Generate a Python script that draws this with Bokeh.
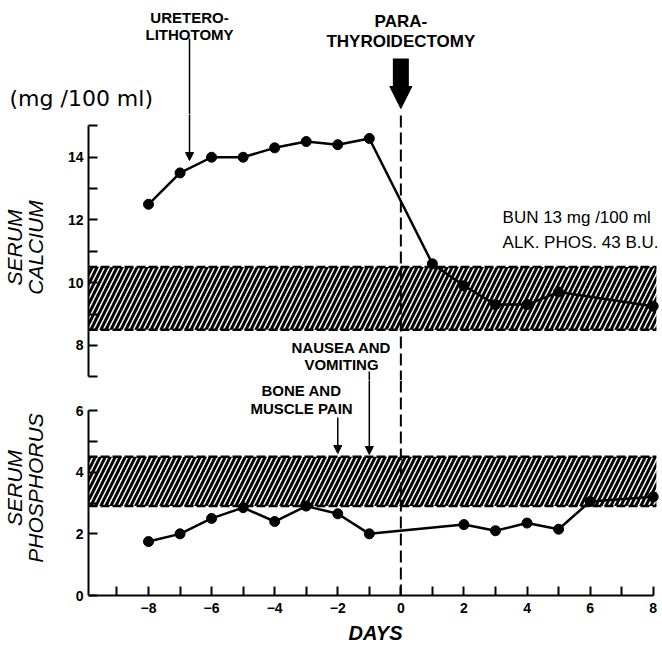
from bokeh.plotting import figure
from bokeh.layouts import column
from bokeh.models import Range1d, FixedTicker, Label, Arrow, NormalHead, Span
from bokeh.embed import file_html
from bokeh.resources import INLINE

# ---------------- data ----------------
days_ca = [-8, -7, -6, -5, -4, -3, -2, -1, 1, 2, 3, 4, 5, 8]
calcium = [12.5, 13.5, 14.0, 14.0, 14.3, 14.5, 14.4, 14.6, 10.6, 9.9, 9.3, 9.3, 9.7, 9.25]
days_p = [-8, -7, -6, -5, -4, -3, -2, -1, 2, 3, 4, 5, 6, 8]
phosphorus = [1.75, 2.0, 2.5, 2.85, 2.4, 2.9, 2.65, 2.0, 2.3, 2.1, 2.35, 2.15, 3.05, 3.2]
ca_normal = [8.5, 10.5]
p_normal = [2.9, 4.5]
surgery_day = 0
uretero_day = -6.7
bone_pain_day = -2
nausea_day = -1
x_major = [-8, -6, -4, -2, 0, 2, 4, 6, 8]
x_minor = [-9, -7, -5, -3, -1, 1, 3, 5, 7]
ca_major = [8, 10, 12, 14]
ca_minor = [7, 9, 11, 13, 15]
p_major = [0, 2, 4, 6]
p_minor = [3, 5]

# ---------------- layout helpers ----------------
W = 662
LEFT = 88
HEAD_H = 114
DAY_PX = 31.54
X0 = -8 - (148 - LEFT) / DAY_PX
X1 = 8 + (W - 652.7) / DAY_PX
XH = -8 - 148 / DAY_PX
CA_PX = 31.35
CA_TOP = 15 + 125.4 / CA_PX
P_PX = 30.83
P_TOP = (595 - 380) / P_PX
band_end = 8.1
FONT = "Liberation Sans"


def ca_y(py):
    return CA_TOP - py / CA_PX


def p_y(py):
    return (595 - py) / P_PX


def day_x(px):
    return (px - 148) / DAY_PX - 8


xr = Range1d(X0, X1)


def style_axis(ax, major, minor, bounds):
    ax.ticker = FixedTicker(ticks=major, minor_ticks=minor)
    ax.bounds = bounds
    ax.axis_line_width = 2
    ax.major_tick_line_width = 2
    ax.minor_tick_line_width = 2
    ax.major_tick_in = 9
    ax.major_tick_out = 0
    ax.minor_tick_in = 9
    ax.minor_tick_out = 0
    ax.major_label_standoff = 5
    ax.major_label_text_font = FONT
    ax.major_label_text_font_style = "bold"
    ax.major_label_text_font_size = "14px"
    ax.major_label_text_color = "black"
    ax.axis_label_text_font = FONT
    ax.axis_label_text_color = "black"


def lab(p, x, y, text, size, style="bold", align="center", baseline="top", lh=1.2, font=FONT):
    p.add_layout(Label(x=x, y=y, text=text, text_font=font, text_font_size=f"{size}px",
                       text_font_style=style, text_align=align, text_baseline=baseline,
                       text_line_height=lh, text_color="black"))


def small_arrow(p, x, y0, y1):
    p.add_layout(Arrow(x_start=x, y_start=y0, x_end=x, y_end=y1, line_width=1.5,
                       line_color="black",
                       end=NormalHead(size=8, fill_color="black", line_color="black")))


# ---------------- header: event annotations ----------------
p0 = figure(width=W, height=HEAD_H, x_range=Range1d(XH, X1), y_range=Range1d(ca_y(HEAD_H), CA_TOP),
            output_backend="svg", toolbar_location=None, x_axis_location=None, y_axis_location=None,
            min_border_left=0, min_border_right=0, min_border_top=0, min_border_bottom=0,
            outline_line_color=None, background_fill_color="white")
p0.frame_align = False
p0.grid.visible = False

lab(p0, uretero_day, ca_y(8), "URETERO-\nLITHOTOMY", 15, lh=1.0)
p0.segment(x0=[uretero_day], x1=[uretero_day], y0=[ca_y(38)], y1=[ca_y(HEAD_H + 5)],
           line_color="black", line_width=1.5)
lab(p0, surgery_day, ca_y(11), "PARA-\nTHYROIDECTOMY", 17, lh=1.06)
p0.add_layout(Arrow(x_start=surgery_day, y_start=ca_y(58), x_end=surgery_day, y_end=ca_y(108),
                    line_width=16, line_color="black",
                    end=NormalHead(size=22, fill_color="black", line_color="black")))
lab(p0, day_x(9), ca_y(85), "(mg /100 ml)", 22, style="normal", align="left", font="DejaVu Sans")

# ---------------- serum calcium ----------------
p1 = figure(width=W, height=380 - HEAD_H, x_range=xr, y_range=Range1d(ca_y(380), ca_y(HEAD_H)),
            output_backend="svg", toolbar_location=None, x_axis_location=None,
            min_border_left=LEFT, min_border_right=0, min_border_top=0, min_border_bottom=0,
            outline_line_color=None, background_fill_color="white")
p1.grid.visible = False
ya = p1.yaxis[0]
style_axis(ya, ca_major, ca_minor, (7, 15))
ya.axis_label = "SERUM\nCALCIUM"
ya.axis_label_text_font_style = "italic"
ya.axis_label_text_font_size = "21px"
ya.axis_label_text_line_height = 0.9
ya.axis_label_standoff = 18

p1.quad(left=[X0], right=[band_end], bottom=[ca_normal[0]], top=[ca_normal[1]],
        fill_color=None, line_color=None, hatch_pattern="/", hatch_color="black",
        hatch_weight=3, hatch_scale=10)
p1.segment(x0=[X0, X0], x1=[band_end, band_end], y0=ca_normal, y1=ca_normal,
           line_color="black", line_width=2.5, line_dash="9 3")

p1.segment(x0=[surgery_day], x1=[surgery_day], y0=[ca_y(115)], y1=[ca_y(400)],
           line_color="black", line_width=2, line_dash="12 5")

p1.line(days_ca, calcium, line_color="black", line_width=2.5)
p1.scatter(days_ca, calcium, size=10, color="black")

small_arrow(p1, uretero_day, ca_y(HEAD_H - 5), ca_y(160))
lab(p1, day_x(502), ca_y(207), "BUN  13 mg /100 ml\nALK. PHOS.  43 B.U.", 17, style="normal",
    align="left", lh=1.35)
lab(p1, day_x(341), ca_y(338), "NAUSEA AND\nVOMITING", 15, lh=1.05)
p1.segment(x0=[nausea_day], x1=[nausea_day], y0=[ca_y(371)], y1=[ca_y(400)],
           line_color="black", line_width=1.5)

# ---------------- serum phosphorus ----------------
p2 = figure(width=W, height=267, x_range=xr, y_range=Range1d(0, P_TOP),
            output_backend="svg", toolbar_location=None,
            min_border_left=LEFT, min_border_right=0, min_border_top=0, min_border_bottom=52,
            outline_line_color=None, background_fill_color="white")
p2.grid.visible = False
yb = p2.yaxis[0]
style_axis(yb, p_major, p_minor, (0, 6))
yb.axis_label = "SERUM\nPHOSPHORUS"
yb.axis_label_text_font_style = "italic"
yb.axis_label_text_font_size = "21px"
yb.axis_label_text_line_height = 0.9
yb.axis_label_standoff = 26
xa = p2.xaxis[0]
style_axis(xa, x_major, x_minor, (X0, 8))
xa.major_label_standoff = 7
xa.axis_label = "DAYS"
xa.axis_label_text_font_style = "bold italic"
xa.axis_label_text_font_size = "20px"
xa.axis_label_standoff = 6

p2.quad(left=[X0], right=[band_end], bottom=[p_normal[0]], top=[p_normal[1]],
        fill_color=None, line_color=None, hatch_pattern="/", hatch_color="black",
        hatch_weight=3, hatch_scale=10)
p2.segment(x0=[X0, X0], x1=[band_end, band_end], y0=p_normal, y1=p_normal,
           line_color="black", line_width=2.5, line_dash="9 3")

p2.add_layout(Span(location=surgery_day, dimension="height", line_color="black",
                   line_width=2, line_dash="12 5"))

p2.line(days_p, phosphorus, line_color="black", line_width=2.5)
p2.scatter(days_p, phosphorus, size=10, color="black")

lab(p2, day_x(301), p_y(381), "BONE AND\nMUSCLE PAIN", 15, lh=1.1)
small_arrow(p2, bone_pain_day, p_y(417), p_y(453))
small_arrow(p2, nausea_day, p_y(370), p_y(454))

layout = column(p0, p1, p2, spacing=0)
open("out.html", "w").write(file_html(layout, INLINE))
